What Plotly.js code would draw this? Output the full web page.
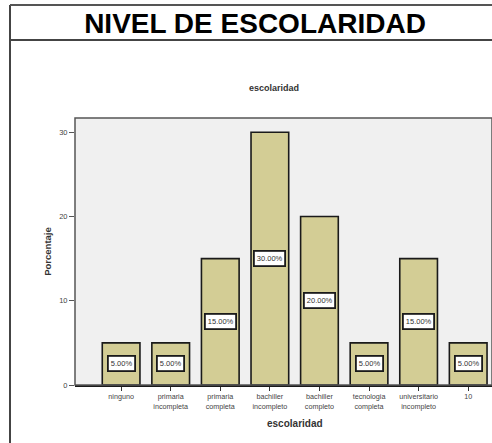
<!DOCTYPE html>
<html>
<head>
<meta charset="utf-8">
<script src="https://cdn.plot.ly/plotly-3.0.1.min.js"></script>
<style>html,body{margin:0;padding:0;background:#fff;}#chart{width:492px;height:443px;}</style>
</head>
<body>
<div id="chart"></div>
<script>
// ---- data ----
var categories = ["ninguno", "primaria incompleta", "primaria completa", "bachiller incompleto", "bachiller completo", "tecnologia completa", "universitario incompleto", "10"];
var tickLabels = ["ninguno", "primaria<br>incompleta", "primaria<br>completa", "bachiller<br>incompleto", "bachiller<br>completo", "tecnologia<br>completa", "universitario<br>incompleto", "10"];
var percentages = [5, 5, 15, 30, 20, 5, 15, 5];
var yTicks = [0, 10, 20, 30];

var W = 492, H = 443;
var mL = 75, mR = 0, mT = 118, mB = 58;
var pw = W - mL - mR, ph = H - mT - mB;
function px(x) { return (x - mL) / pw; }
function py(y) { return 1 - (y - mT) / ph; }

var font = "Liberation Sans, Arial, sans-serif";

var trace = {
  type: "bar",
  x: categories,
  y: percentages,
  marker: { color: "#d3cd95", line: { color: "#1a1a1a", width: 1.6 } },
  hoverinfo: "skip"
};

var annotations = categories.map(function (c, i) {
  return {
    x: i, y: percentages[i] / 2, xref: "x", yref: "y",
    text: percentages[i].toFixed(2) + "%",
    showarrow: false,
    font: { family: font, size: 7.5, color: "#333" },
    bgcolor: "#ffffff", bordercolor: "#1a1a1a", borderwidth: 1.8, borderpad: 2
  };
});
// x axis title centered on bars
annotations.push({
  x: (categories.length - 1) / 2, xref: "x", y: py(423), yref: "paper",
  xanchor: "center", yanchor: "middle",
  text: "<b>escolaridad</b>", showarrow: false,
  font: { family: font, size: 10, color: "#333" }
});
// chart subtitle
annotations.push({
  x: px(274), xref: "paper", y: py(88), yref: "paper",
  xanchor: "center", yanchor: "middle",
  text: "<b>escolaridad</b>", showarrow: false,
  font: { family: font, size: 9, color: "#333" }
});

var shapes = [
  // outer frame
  { type: "line", xref: "paper", yref: "paper", x0: px(10), x1: px(10), y0: py(5), y1: py(443), line: { color: "#444", width: 2 } },
  { type: "line", xref: "paper", yref: "paper", x0: px(10), x1: px(492), y0: py(5), y1: py(5), line: { color: "#555", width: 2 } },
  { type: "line", xref: "paper", yref: "paper", x0: px(10), x1: px(492), y0: py(40), y1: py(40), line: { color: "#444", width: 2 } },
  // plot box
  { type: "rect", xref: "paper", yref: "paper", x0: 0, x1: 1, y0: 0, y1: 1, line: { color: "#555", width: 1.5 }, layer: "above" }
];

var layout = {
  width: W, height: H,
  margin: { l: mL, r: mR, t: mT, b: mB, pad: 0 },
  paper_bgcolor: "#ffffff",
  plot_bgcolor: "#f0f0f0",
  showlegend: false,
  bargap: 0.24,
  title: {
    text: "<b>NIVEL DE ESCOLARIDAD</b>",
    font: { family: font, size: 28, color: "#000" },
    xref: "container", yref: "container",
    x: 255 / W, y: 1 - 23 / H, xanchor: "center", yanchor: "middle"
  },
  xaxis: {
    type: "category",
    range: [-0.93, 7.48],
    tickvals: categories,
    ticktext: tickLabels,
    ticks: "outside", ticklen: 4, tickcolor: "#333", tickwidth: 1,
    showline: true, linecolor: "#1a1a1a", linewidth: 1.5,
    showgrid: false, zeroline: false,
    tickfont: { family: font, size: 7.2, color: "#444" },
    fixedrange: true
  },
  yaxis: {
    range: [0, 31.7],
    tickvals: yTicks,
    ticktext: yTicks.map(String),
    ticks: "outside", ticklen: 5, tickcolor: "#555", tickwidth: 1,
    showline: false, showgrid: false, zeroline: false,
    tickfont: { family: font, size: 7.5, color: "#444" },
    title: { text: "<b>Porcentaje</b>", font: { family: font, size: 9.5, color: "#333" }, standoff: 5 },
    fixedrange: true
  },
  annotations: annotations,
  shapes: shapes
};

Plotly.newPlot("chart", [trace], layout, { displayModeBar: false, staticPlot: true });
</script>
</body>
</html>
